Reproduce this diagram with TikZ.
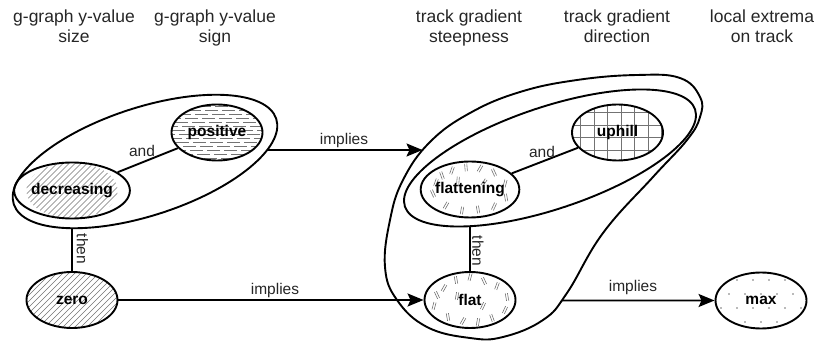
\documentclass[tikz,border=0pt]{standalone}
\usepackage{fontspec}
\setmainfont{Liberation Sans}
\usetikzlibrary{shapes.geometric, arrows.meta, intersections}
\tikzset{
  dblmark/.pic={\draw[black!55, line width=0.6pt] (-3.8,-1.1) -- (3.8,-1.1) (-3.8,1.1) -- (3.8,1.1);}
}
\begin{document}
\begin{tikzpicture}[x=1pt,y=1pt,
  lab/.style={ellipse, draw, line width=1.9pt, minimum width=91pt, minimum height=56pt, inner sep=0pt, font=\fontsize{15.5}{18}\selectfont\bfseries},
  elab/.style={font=\fontsize{15.5}{18}\selectfont, text=black!85, inner sep=0pt},
  hdr/.style={font=\fontsize{17.5}{20}\selectfont, align=center, anchor=north, inner sep=0pt, text=black!85},
  conn/.style={line width=1.9pt},
  arr/.style={conn, -{Stealth[length=16pt,width=13pt,inset=3pt]}},
  grp/.style={line width=1.9pt},
  hatch/.style={black!55, line width=0.7pt}
]
\useasboundingbox (0,0) rectangle (817,-344);

% headers
\node[hdr] (h1) at (74,-10) {g-graph y-value\\size};
\node[hdr] (h2) at (215,-10) {g-graph y-value\\sign};
\node[hdr] (h3) at (469,-10) {track gradient\\steepness};
\node[hdr] (h4) at (617,-10) {track gradient\\direction};
\node[hdr] (h5) at (762,-10) {local extrema\\on track};

% fills
\begin{scope}
  \clip (72,-190.5) ellipse [x radius=45.5, y radius=28];
  \foreach \i in {-90,-84,...,90} \draw[hatch] (72+\i-35,-190.5-35) -- ++(70,70);
\end{scope}
\begin{scope}
  \clip (72,-300) ellipse [x radius=45.5, y radius=28];
  \foreach \i in {-90,-84,...,90} \draw[hatch] (72+\i-35,-300-35) -- ++(70,70);
\end{scope}
\begin{scope}
  \clip (217,-132.5) ellipse [x radius=45.5, y radius=28];
  \foreach \r [count=\k, evaluate=\k as \ph using {mod(\k*7,17)}] in {-26,-22,...,26}
    \draw[hatch, dash pattern=on 13pt off 4pt, dash phase=\ph pt] (160,-132.5+\r) -- (275,-132.5+\r);
\end{scope}
\begin{scope}
  \clip (617.5,-132.5) ellipse [x radius=45.5, y radius=28];
  \draw[hatch, xstep=13.5pt, ystep=12.5pt] (560,-170) grid (680,-95);
\end{scope}
\begin{scope}
  \clip (470,-189.5) ellipse [x radius=45.5, y radius=28];
  \foreach \dx/\dy/\a in {-28/-14/110,-18/-19/70,-4/-22/95,10/-21/60,24/-17/115,35/-6/75,36/8/100,24/17/65,8/20/100,-8/21/80,-24/16/60,-37/4/115,-34/-7/70,-12/-9/85,14/-7/55}
    \pic[rotate=\a] at (470+\dx,-189.5-\dy) {dblmark};
\end{scope}
\begin{scope}
  \clip (470,-300) ellipse [x radius=45.5, y radius=28];
  \foreach \dx/\dy/\a in {-26/-12/60,-14/-20/100,0/-23/75,14/-19/115,27/-14/70,37/-3/100,35/10/65,22/18/110,8/22/80,-7/21/60,-22/17/100,-36/6/75,-33/-5/115,-13/-4/80,13/6/65}
    \pic[rotate=\a] at (470+\dx,-300-\dy) {dblmark};
\end{scope}
\begin{scope}
  \clip (761,-300.5) ellipse [x radius=45.5, y radius=28];
  \foreach \x in {721,737,...,801} \foreach \y in {-280,-308}
    \fill[black!55] (\x,\y) circle (0.8);
  \foreach \x in {729,745,...,801} \foreach \y in {-294,-322}
    \fill[black!55] (\x,\y) circle (0.8);
\end{scope}

% nodes
\node[lab] (pos) at (217,-132.5) {positive};
\node[lab] (dec) at (72,-190.5) {decreasing};
\node[lab] (zero) at (72,-300) {zero};
\node[lab] (up) at (617.5,-132.5) {uphill};
\node[lab] (flg) at (470,-189.5) {flattening};
\node[lab] (flat) at (470,-300) {flat};
\node[lab] (max) at (761,-300.5) {max};

% groups
\draw[grp, name path=g1, rotate around={18:(145,-161.5)}] (145,-161.5) ellipse [x radius=138, y radius=54];
\draw[grp, name path=g2, rotate around={18.5:(550,-158)}] (550,-158) ellipse [x radius=153, y radius=51];
\draw[grp, name path=g3] plot[smooth cycle, tension=0.7] coordinates {(430,-142) (470,-113) (520,-92) (577,-80) (637,-75) (680,-78) (700,-97) (700,-117) (687,-140) (653,-177) (603,-233) (567,-293) (543,-320) (503,-337) (470,-338) (427,-327) (397,-300) (385,-267) (390,-220) (403,-180)};

% connectors
\draw[conn] (dec) -- (pos);
\draw[conn] (flg) -- (up);

\path[name path=v1] (zero.north) -- ++(0,90);
\draw[conn, name intersections={of=g1 and v1, by=t1}] (t1) -- (zero.north);
\path[name path=v2] (flat.north) -- ++(0,90);
\draw[conn, name intersections={of=g2 and v2, by=t2}] (t2) -- (flat.north);

\path[name path=hl1] (0,-150) -- (817,-150);
\path[name intersections={of=g1 and hl1, sort by=hl1, by={g1l,g1r}}];
\path[name intersections={of=g3 and hl1, sort by=hl1, by={g3l,g3r}}];
\draw[arr] (g1r) -- (g3l);

\draw[arr] (zero) -- (flat);

\path[name path=hl3] (0,-300.5) -- (817,-300.5);
\path[name intersections={of=g3 and hl3, sort by=hl3, by={g3a,g3b}}];
\draw[arr] (g3b) -- (max.west);

% edge labels
\node[elab, anchor=base] (and1) at (142,-157) {and};
\node[elab, anchor=base] (and2) at (542,-158) {and};
\node[elab, anchor=base] (imp1) at (344,-145) {implies};
\node[elab, anchor=base] (imp2) at (275,-295) {implies};
\node[elab, anchor=base] (imp3) at (633,-292) {implies};
\node[elab, rotate=-90] (then1) at (82.5,-249) {then};
\node[elab, rotate=-90] (then2) at (478,-251) {then};
\end{tikzpicture}
\end{document}
